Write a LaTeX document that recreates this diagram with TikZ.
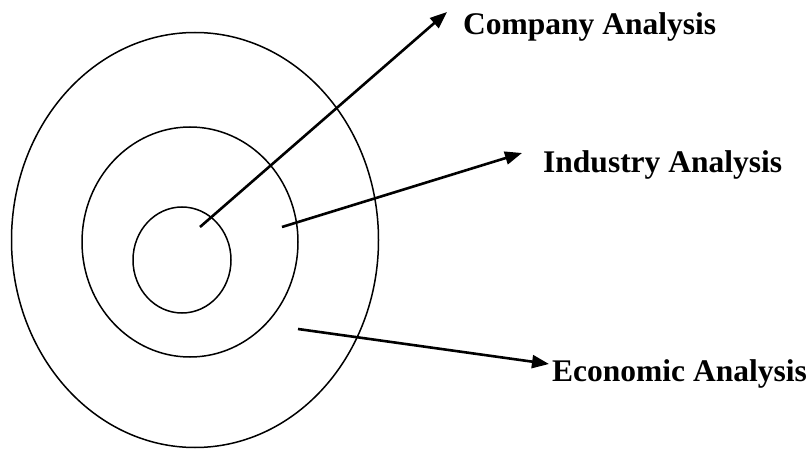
\documentclass[tikz,border=0pt]{standalone}
\usepackage{fontspec}
\setmainfont{Liberation Serif}
\usetikzlibrary{shapes.geometric,arrows.meta}
\begin{document}
\begin{tikzpicture}[x=1pt,y=-1pt,
  ring/.style={draw, ellipse, line width=1.5pt, inner sep=0pt, outer sep=0pt},
  pointer/.style={line width=2.6pt, -{Triangle[length=17pt,width=13pt]}},
  label/.style={anchor=base west, inner sep=0pt, font=\fontsize{31.5}{36}\selectfont\bfseries}]
  \useasboundingbox (0,0) rectangle (811,449);
  % concentric levels of analysis
  \node[ring, minimum width=367pt, minimum height=415pt] (outer) at (195,240) {};
  \node[ring, minimum width=216pt, minimum height=230pt] (middle) at (190,242) {};
  \node[ring, minimum width=98pt, minimum height=106pt] (inner) at (182,260) {};
  % labels
  \node[label] (company) at (463,35) {Company Analysis};
  \node[label] (industry) at (543,173) {Industry Analysis};
  \node[label] (economic) at (552,381) {Economic Analysis};
  % arrow start and end points
  \coordinate (cA) at (200,227);
  \coordinate (cB) at (447,12);
  \coordinate (iA) at (282,227);
  \coordinate (iB) at (522,153);
  \coordinate (eA) at (298,329);
  \coordinate (eB) at (549,364);
  \draw[pointer] (cA) -- (cB);
  \draw[pointer] (iA) -- (iB);
  \draw[pointer] (eA) -- (eB);
\end{tikzpicture}
\end{document}
